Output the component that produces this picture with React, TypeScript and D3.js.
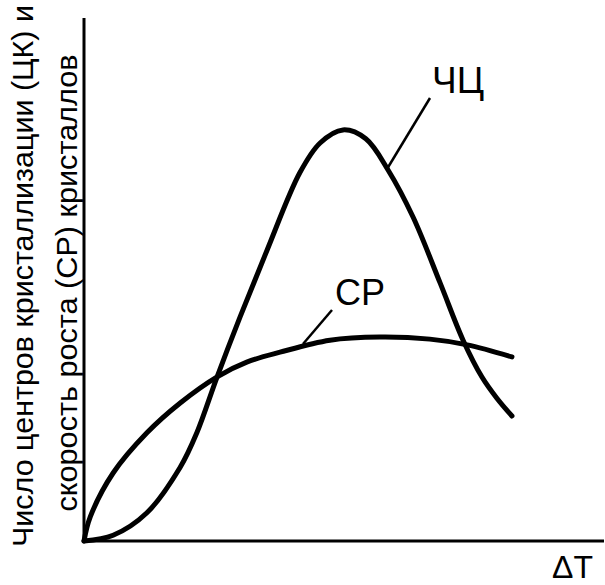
import React from "react";
import * as d3 from "d3";

// values, x = ΔT, y = relative value (0..100)
const nucleiX = [0, 5.6, 12.1, 18.5, 21.7, 25.6, 30.0, 35.2, 41.5, 45.4, 49.8, 54.2, 58.5, 63.3, 68.5, 72.9, 76.5, 79.4, 82.3];
const nucleiY = [0, 1.1, 5.4, 14.1, 20.7, 31.4, 42.8, 55.6, 70.4, 76.1, 78.6, 76.9, 70.9, 61.9, 49.3, 38.4, 31.4, 27.3, 23.9];

const growthX = [0, 1.2, 5.6, 12.1, 18.5, 25.6, 31.3, 37.7, 47.3, 56.9, 66.5, 73.7, 82.3];
const growthY = [0, 4.6, 13.0, 20.7, 26.4, 31.4, 34.2, 36.1, 38.4, 39.0, 38.6, 37.5, 35.2];

const yLabelLines = ["Число центров кристаллизации (ЦК) и", "скорость роста (СР) кристаллов"];
const xLabel = "ΔT";
const curveLabels = ["ЧЦ", "СР"];

const W = 605;
const H = 585;
const font = "'Liberation Sans', Arial, sans-serif";

export default function App() {
  const x = d3.scaleLinear().domain([0, 100]).range([84, 604]);
  const y = d3.scaleLinear().domain([0, 100]).range([541, 18]);

  const line = d3
    .line<[number, number]>()
    .x((d) => x(d[0]))
    .y((d) => y(d[1]))
    .curve(d3.curveCatmullRom.alpha(0.5));

  const nuclei: [number, number][] = nucleiX.map((v, i) => [v, nucleiY[i]]);
  const growth: [number, number][] = growthX.map((v, i) => [v, growthY[i]]);

  return (
    <svg width={W} height={H} style={{ position: "absolute", left: 0, top: 0, background: "#fff" }}>
      {/* axes */}
      <line x1={x(0)} y1={y(0)} x2={x(0)} y2={y(100)} stroke="#000" strokeWidth={3} />
      <line x1={x(0)} y1={y(0)} x2={x(100)} y2={y(0)} stroke="#000" strokeWidth={3} />

      {/* curves */}
      <path d={line(nuclei) || ""} fill="none" stroke="#000" strokeWidth={5} strokeLinecap="round" />
      <path d={line(growth) || ""} fill="none" stroke="#000" strokeWidth={5} strokeLinecap="round" />

      {/* leader lines */}
      <line x1={387} y1={169} x2={430} y2={98} stroke="#000" strokeWidth={2.5} />
      <line x1={303} y1={344} x2={332} y2={310} stroke="#000" strokeWidth={2.5} />

      <text x={432} y={93} fontFamily={font} fontSize={37}>{curveLabels[0]}</text>
      <text x={335} y={305} fontFamily={font} fontSize={36}>{curveLabels[1]}</text>
      <text x={552} y={578} fontFamily={font} fontSize={32}>{xLabel}</text>

      {/* y label, rotated */}
      <g fontFamily={font} fontSize={29} textAnchor="middle">
        <text transform="translate(33,276) rotate(-90)" textLength={542} lengthAdjust="spacingAndGlyphs">
          {yLabelLines[0]}
        </text>
        <text transform="translate(77,283) rotate(-90)" textLength={457} lengthAdjust="spacingAndGlyphs">
          {yLabelLines[1]}
        </text>
      </g>
    </svg>
  );
}
